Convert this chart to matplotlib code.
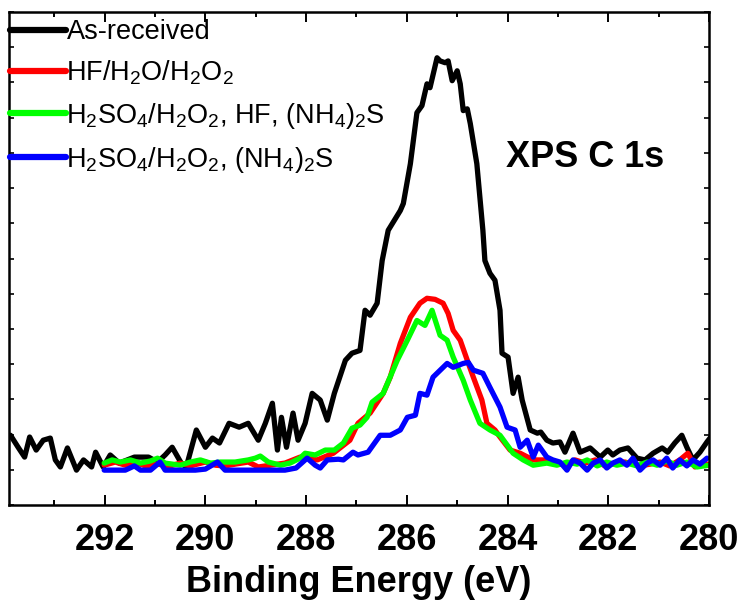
import matplotlib
matplotlib.use("Agg")
import matplotlib.pyplot as plt
from matplotlib.ticker import MultipleLocator, NullFormatter

plt.rcParams['font.family'] = ['Liberation Sans', 'DejaVu Sans']
plt.rcParams['mathtext.fontset'] = 'custom'
plt.rcParams['mathtext.rm'] = 'Liberation Sans'
plt.rcParams['mathtext.it'] = 'Liberation Sans'
plt.rcParams['mathtext.bf'] = 'Liberation Sans:bold'

# ---------------- data ----------------
labels = ['As-received',
          r'HF/H$_2$O/H$_2$O$_2$',
          r'H$_2$SO$_4$/H$_2$O$_2$, HF, (NH$_4$)$_2$S',
          r'H$_2$SO$_4$/H$_2$O$_2$, (NH$_4$)$_2$S']
colors = ['#000000', '#ff0000', '#00ff00', '#0000ff']

be_black = [293.87, 293.71, 293.59, 293.49, 293.36, 293.22, 293.08, 292.98, 292.88, 292.74,
            292.56, 292.42, 292.26, 292.18, 292.03, 291.89, 291.71, 291.41, 291.13, 290.95,
            290.80, 290.66, 290.48, 290.38, 290.18, 290.00, 289.86, 289.72, 289.53, 289.33,
            289.15, 288.95, 288.81, 288.67, 288.57, 288.49, 288.39, 288.26, 288.16, 288.02,
            287.88, 287.72, 287.58, 287.44, 287.22, 287.09, 286.93, 286.83, 286.73, 286.59,
            286.49, 286.37, 286.13, 286.07, 285.93, 285.80, 285.70, 285.60, 285.54, 285.40,
            285.34, 285.24, 285.18, 285.10, 285.00, 284.94, 284.88, 284.80, 284.74, 284.61,
            284.49, 284.45, 284.35, 284.25, 284.15, 284.11, 283.99, 283.89, 283.79, 283.71,
            283.55, 283.41, 283.34, 283.22, 283.10, 282.96, 282.86, 282.70, 282.56, 282.36,
            282.16, 282.01, 281.91, 281.77, 281.61, 281.43, 281.27, 281.11, 280.93, 280.82,
            280.68, 280.54, 280.44, 280.32, 280.18, 280.04, 279.98]
int_black = [1.98, 1.62, 1.36, 1.93, 1.56, 1.84, 1.90, 1.28, 1.08, 1.62,
             0.99, 1.28, 1.08, 1.50, 1.08, 1.42, 1.19, 1.36, 1.36, 1.22,
             1.42, 1.64, 1.19, 1.08, 2.13, 1.64, 1.90, 1.76, 2.32, 2.21,
             2.32, 1.84, 2.32, 2.89, 1.56, 2.49, 1.64, 2.61, 1.84, 2.32,
             3.17, 2.98, 2.41, 3.17, 4.11, 4.31, 4.39, 5.53, 5.39, 5.73,
             6.94, 7.80, 8.36, 8.56, 9.69, 11.14, 11.34, 11.96, 11.85, 12.70,
             12.61, 12.56, 12.61, 12.05, 12.33, 11.96, 11.20, 11.25, 10.83, 9.69,
             7.80, 6.94, 6.58, 6.38, 5.53, 4.31, 4.20, 3.17, 3.63, 2.98,
             2.13, 2.04, 2.07, 1.84, 1.76, 1.79, 1.50, 2.04, 1.50, 1.62,
             1.36, 1.56, 1.42, 1.56, 1.62, 1.33, 1.28, 1.47, 1.62, 1.50,
             1.76, 1.98, 1.64, 1.28, 1.50, 1.79, 1.90]

be_red = [292.01, 291.79, 291.59, 291.41, 291.19, 290.95, 290.70, 290.50, 290.30, 290.00,
          289.80, 289.61, 289.41, 289.15, 288.95, 288.71, 288.42, 288.12, 287.78, 287.46,
          287.13, 286.97, 286.73, 286.47, 286.33, 286.13, 285.93, 285.74, 285.60, 285.44,
          285.28, 285.18, 285.08, 284.94, 284.80, 284.68, 284.51, 284.41, 284.25, 284.15,
          283.95, 283.75, 283.49, 283.22, 283.06, 282.86, 282.66, 282.46, 282.26, 282.07,
          281.87, 281.67, 281.37, 281.17, 280.97, 280.78, 280.58, 280.42, 280.28, 280.12,
          280.00]
int_red = [1.13, 1.22, 1.13, 1.22, 1.11, 1.16, 1.11, 1.19, 1.11, 1.22,
           1.13, 1.11, 1.16, 1.22, 1.08, 1.13, 1.19, 1.36, 1.28, 1.47,
           1.84, 2.32, 2.61, 3.17, 3.63, 4.59, 5.33, 5.73, 5.87, 5.84,
           5.73, 5.44, 4.96, 4.68, 4.11, 3.63, 2.98, 2.32, 2.13, 1.93,
           1.56, 1.47, 1.28, 1.28, 1.22, 1.13, 1.28, 1.19, 1.28, 1.11,
           1.19, 1.22, 1.11, 1.16, 1.22, 1.11, 1.28, 1.47, 1.08, 1.22,
           1.13]

be_green = [292.01, 291.85, 291.69, 291.49, 291.29, 291.09, 290.95, 290.80, 290.50, 290.30,
            290.10, 289.90, 289.70, 289.41, 289.15, 289.01, 288.91, 288.75, 288.51, 288.32,
            288.12, 288.02, 287.82, 287.62, 287.44, 287.26, 287.09, 286.93, 286.79, 286.69,
            286.47, 286.19, 285.99, 285.80, 285.64, 285.50, 285.34, 285.20, 285.08, 284.88,
            284.74, 284.55, 284.35, 284.15, 283.89, 283.69, 283.49, 283.22, 283.02, 282.82,
            282.62, 282.42, 282.22, 282.03, 281.83, 281.63, 281.43, 281.23, 281.03, 280.84,
            280.64, 280.44, 280.24, 280.00]
int_green = [1.19, 1.28, 1.22, 1.28, 1.19, 1.25, 1.33, 1.19, 1.13, 1.22,
             1.28, 1.19, 1.22, 1.22, 1.28, 1.33, 1.39, 1.22, 1.13, 1.19,
             1.33, 1.47, 1.42, 1.56, 1.56, 1.76, 2.18, 2.27, 2.49, 2.92,
             3.17, 4.11, 4.68, 5.24, 5.10, 5.53, 4.82, 4.68, 4.20, 3.54,
             2.98, 2.32, 2.13, 1.98, 1.47, 1.28, 1.13, 1.19, 1.13, 1.22,
             1.16, 1.28, 1.11, 1.22, 1.13, 1.19, 1.11, 1.22, 1.13, 1.25,
             1.13, 1.22, 1.08, 1.13]

be_blue = [292.01, 291.79, 291.59, 291.41, 291.29, 291.09, 290.90, 290.80, 290.50, 290.20,
           290.00, 289.76, 289.61, 289.31, 289.01, 288.71, 288.42, 288.20, 287.98, 287.82,
           287.72, 287.58, 287.36, 287.26, 287.07, 286.97, 286.77, 286.53, 286.33, 286.13,
           285.99, 285.83, 285.74, 285.60, 285.48, 285.20, 285.08, 284.88, 284.78, 284.68,
           284.49, 284.35, 284.15, 284.01, 283.85, 283.75, 283.61, 283.49, 283.39, 283.22,
           283.10, 282.96, 282.82, 282.70, 282.56, 282.42, 282.30, 282.16, 282.03, 281.91,
           281.77, 281.63, 281.51, 281.37, 281.23, 281.11, 280.97, 280.84, 280.72, 280.58,
           280.44, 280.32, 280.18, 280.04]
int_blue = [0.99, 0.99, 0.99, 1.11, 0.99, 0.99, 1.22, 0.99, 0.99, 0.99,
            1.02, 1.22, 0.99, 0.99, 0.99, 0.99, 0.99, 1.05, 1.33, 1.13,
            1.05, 1.28, 1.30, 1.28, 1.50, 1.42, 1.50, 1.98, 1.98, 2.13,
            2.49, 2.55, 3.17, 3.12, 3.63, 4.02, 3.91, 4.02, 4.05, 3.83,
            3.74, 3.34, 2.78, 2.21, 2.13, 1.64, 1.84, 1.36, 1.70, 1.36,
            1.28, 1.22, 0.99, 1.28, 1.19, 0.99, 1.19, 1.28, 1.05, 1.19,
            1.28, 1.13, 1.33, 0.99, 1.19, 1.28, 1.13, 1.33, 1.05, 1.28,
            1.11, 1.28, 1.16, 1.33]

xticks = [292, 290, 288, 286, 284, 282, 280]
xlabel = 'Binding Energy (eV)'
annotation = 'XPS C 1s'

# ---------------- figure ----------------
fig = plt.figure(figsize=(7.45, 6.03), dpi=100)
ax = fig.add_axes([9 / 745, 98 / 603, 700 / 745, 493 / 603])

series = [(be_black, int_black), (be_red, int_red), (be_green, int_green), (be_blue, int_blue)]
for (x, y), c, lab in zip(series, colors, labels):
    ax.plot(x, y, color=c, lw=3.8, label=lab, solid_joinstyle='round', solid_capstyle='round')

ax.set_xlim(293.9, 280.0)
ax.set_ylim(0, 14)
ax.set_xticks(xticks)
ax.xaxis.set_minor_locator(MultipleLocator(1))
ax.yaxis.set_major_locator(MultipleLocator(1))
ax.yaxis.set_major_formatter(NullFormatter())

for s in ax.spines.values():
    s.set_linewidth(1.8)
ax.tick_params(axis='x', which='major', direction='in', length=7, width=1.4,
               top=True, labelsize=26, pad=13)
ax.tick_params(axis='x', which='minor', direction='in', length=3.5, width=1.4, top=True)
ax.tick_params(axis='y', which='major', direction='in', length=3.5, width=1.2,
               right=True, labelleft=False)
for t in ax.get_xticklabels():
    t.set_fontweight('bold')

ax.set_xlabel(xlabel, fontsize=26, fontweight='bold', labelpad=5)

ax.text(0.823, 0.705, annotation, transform=ax.transAxes, fontsize=26,
        fontweight='bold', ha='center', va='center')

leg = ax.legend(loc='upper left', bbox_to_anchor=(0.002, 0.985), frameon=False,
                fontsize=19.5, handlelength=2.05, handletextpad=0.02,
                borderaxespad=0.0, borderpad=0.0, labelspacing=0.5)
for h in leg.get_lines():
    h.set_linewidth(4.5)

fig.savefig('out.png', dpi=100)
